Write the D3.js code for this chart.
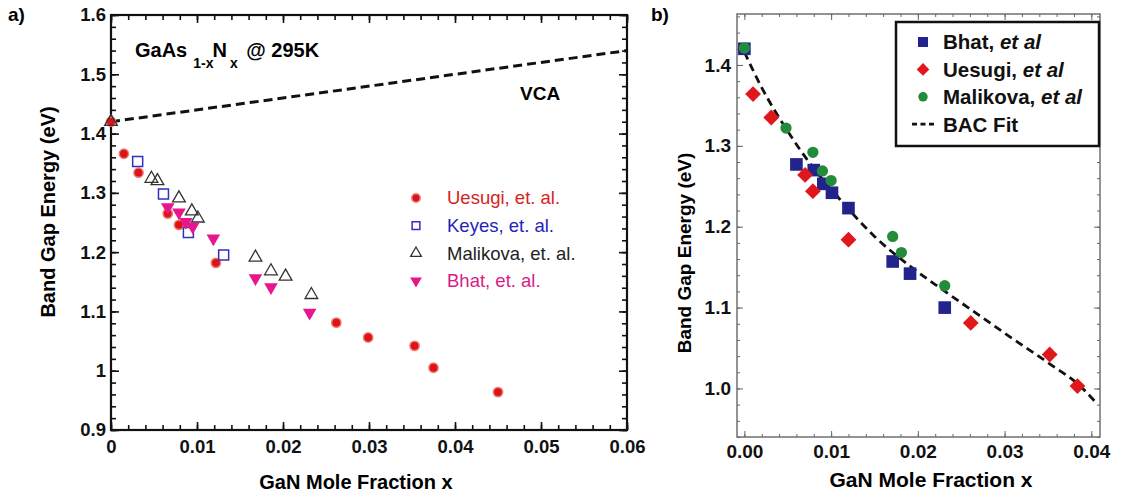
<!DOCTYPE html>
<meta charset="utf-8">
<title>GaAsN band gap</title>
<script src="https://d3js.org/d3.v7.min.js"></script>
<body style="margin:0; background:#fff;">
<div id="chart"></div>
</body>
<script>
// ---- panel a data ----
uesugiAx = [0, 0.0015, 0.0032, 0.0066, 0.0079, 0.0122, 0.0262, 0.0299, 0.0353, 0.0375, 0.0450]
uesugiAy = [1.42, 1.366, 1.334, 1.265, 1.246, 1.182, 1.081, 1.056, 1.042, 1.005, 0.964]
keyesAx = [0.0031, 0.0061, 0.0090, 0.0131]
keyesAy = [1.353, 1.298, 1.233, 1.195]
malikovaAx = [0, 0.0047, 0.0054, 0.0079, 0.0094, 0.0101, 0.0168, 0.0186, 0.0203, 0.0233]
malikovaAy = [1.42, 1.324, 1.320, 1.291, 1.269, 1.257, 1.191, 1.168, 1.159, 1.128]
bhatAx = [0.0066, 0.0079, 0.0087, 0.0095, 0.0119, 0.0168, 0.0186, 0.0231]
bhatAy = [1.276, 1.267, 1.251, 1.243, 1.223, 1.156, 1.141, 1.098]
vcaX = [0, 0.06]
vcaY = [1.42, 1.54]
aXTicks = [0, 0.01, 0.02, 0.03, 0.04, 0.05, 0.06]
aXLabels = ["0", "0.01", "0.02", "0.03", "0.04", "0.05", "0.06"]
aYTicks = [0.9, 1.0, 1.1, 1.2, 1.3, 1.4, 1.5, 1.6]
aYLabels = ["0.9", "1", "1.1", "1.2", "1.3", "1.4", "1.5", "1.6"]
aLegend = ["Uesugi, et. al.", "Keyes, et. al.", "Malikova, et. al.", "Bhat, et. al."]

// ---- panel b data ----
bhatBx = [0, 0.006, 0.008, 0.0091, 0.0101, 0.012, 0.0171, 0.0191, 0.0231]
bhatBy = [1.42, 1.277, 1.270, 1.253, 1.242, 1.223, 1.157, 1.142, 1.100]
uesugiBx = [0.001, 0.0031, 0.007, 0.0079, 0.012, 0.0261, 0.0352, 0.0384]
uesugiBy = [1.364, 1.335, 1.264, 1.244, 1.184, 1.081, 1.042, 1.003]
malikovaBx = [0, 0.0048, 0.0079, 0.009, 0.01, 0.0171, 0.0181, 0.0231]
malikovaBy = [1.421, 1.322, 1.292, 1.269, 1.257, 1.188, 1.168, 1.127]
fitX = [0, 0.002, 0.005, 0.008, 0.011, 0.015, 0.019, 0.023, 0.027, 0.031, 0.035, 0.039, 0.0405]
fitY = [1.416, 1.372, 1.318, 1.272, 1.234, 1.188, 1.152, 1.121, 1.091, 1.061, 1.032, 1.0, 0.983]
bXTicks = [0, 0.01, 0.02, 0.03, 0.04]
bYTicks = [1.0, 1.1, 1.2, 1.3, 1.4]
bLegend = ["Bhat, ", "Uesugi, ", "Malikova, ", "BAC Fit"]

const font = "Liberation Sans, Arial, sans-serif"
const zip = (xs, ys) => xs.map((v, i) => [v, ys[i]])

svg = d3.select("#chart").append("svg")
    .attr("width", 1132).attr("height", 497)
    .style("font-family", font)

// inward ticks on all four sides, labels on bottom and left
function frame(g, x, y, o) {
  const [xa, xb] = x.range(), [ya, yb] = y.range()
  const sides = [
    [d3.axisBottom(x), `translate(0,${ya})`, true, o.xt, o.xl, x.ticks(o.nx)],
    [d3.axisTop(x), `translate(0,${yb})`, false, o.xt, null, x.ticks(o.nx)],
    [d3.axisLeft(y), `translate(${xa},0)`, true, o.yt, o.yl, y.ticks(o.ny)],
    [d3.axisRight(y), `translate(${xb},0)`, false, o.yt, null, y.ticks(o.ny)]
  ]
  const vertical = [false, false, true, true]
  sides.forEach(([ax, tr, lab, ticks, labels, minor], k) => {
    g.append("g").attr("transform", tr)
      .call(ax.tickValues(minor).tickSize(-o.minor).tickFormat(""))
      .call(s => s.select(".domain").remove())
      .selectAll("line").attr("stroke", o.color).attr("stroke-width", o.tickW)
    const a = g.append("g").attr("transform", tr)
      .call(ax.tickValues(ticks).tickSize(-o.major)
        .tickPadding(vertical[k] ? o.padY : o.padX)
        .tickFormat(lab ? (d, i) => labels[i] : ""))
      .call(s => s.select(".domain").remove())
    a.selectAll("line").attr("stroke", o.color).attr("stroke-width", o.tickW)
    a.selectAll("text").attr("font-size", o.fs).attr("font-weight", "bold")
      .attr("font-family", font).attr("fill", "#111")
  })
  g.append("rect")
    .attr("x", xa).attr("y", yb).attr("width", xb - xa).attr("height", ya - yb)
    .attr("fill", "none").attr("stroke", o.color).attr("stroke-width", o.frameW)
}

// ================= panel a =================
xa = d3.scaleLinear().domain([0, 0.06]).range([111, 627])
ya = d3.scaleLinear().domain([0.9, 1.6]).range([430, 15])
ga = svg.append("g")

frame(ga, xa, ya, {xt: aXTicks, xl: aXLabels, yt: aYTicks, yl: aYLabels, nx: 30, ny: 35,
  major: 8, minor: 5, padX: 10, padY: 5, fs: 18.5, color: "#111", tickW: 1.6, frameW: 2.2})

lineA = d3.line().x(d => xa(d[0])).y(d => ya(d[1]))
ga.append("path").datum(zip(vcaX, vcaY))
    .attr("d", lineA).attr("fill", "none").attr("stroke", "#111")
    .attr("stroke-width", 3).attr("stroke-dasharray", "9,5")

symA = [
  {pts: zip(uesugiAx, uesugiAy), type: d3.symbolCircle, size: 68, fill: "#dd1414", stroke: "#f07a7a", sw: 1.5, rot: 0},
  {pts: zip(keyesAx, keyesAy), type: d3.symbolSquare, size: 100, fill: "none", stroke: "#3030c0", sw: 1.5, rot: 0},
  {pts: zip(malikovaAx, malikovaAy), type: d3.symbolTriangle, size: 70, fill: "none", stroke: "#333", sw: 1.3, rot: 0},
  {pts: zip(bhatAx, bhatAy), type: d3.symbolTriangle, size: 80, fill: "#e8168c", stroke: "none", sw: 0, rot: 180}
]
symA.forEach(s => {
  ga.append("g").selectAll("path").data(s.pts).join("path")
    .attr("transform", d => `translate(${xa(d[0])},${ya(d[1])}) rotate(${s.rot})`)
    .attr("d", d3.symbol(s.type, s.size))
    .attr("fill", s.fill).attr("stroke", s.stroke).attr("stroke-width", s.sw)
})

legendColorsA = ["#d42424", "#2424b8", "#222", "#d81c88"]
legA = ga.append("g").selectAll("g").data(aLegend).join("g")
    .attr("transform", (d, i) => `translate(416,${198 + i * 27.6})`)
legA.append("path")
    .attr("transform", (d, i) => `rotate(${symA[i].rot})`)
    .attr("d", (d, i) => d3.symbol(symA[i].type, [55, 60, 50, 60][i])())
    .attr("fill", (d, i) => symA[i].fill).attr("stroke", (d, i) => symA[i].stroke)
    .attr("stroke-width", (d, i) => symA[i].sw)
legA.append("text").attr("x", 31).attr("dy", "0.35em")
    .attr("font-size", 18.5).attr("fill", (d, i) => legendColorsA[i]).text(d => d)

ga.append("text").attr("x", 135).attr("y", 57).attr("font-size", 20).attr("font-weight", "bold")
    .call(t => {
      t.append("tspan").text("GaAs")
      t.append("tspan").attr("font-size", 14).attr("dx", 6).attr("dy", 11).text("1-x")
      t.append("tspan").attr("dx", -1).attr("dy", -11).text("N")
      t.append("tspan").attr("font-size", 14).attr("dx", 3).attr("dy", 11).text("x")
      t.append("tspan").attr("dx", 3).attr("dy", -11).text(" @ 295K")
    })
ga.append("text").attr("x", 520).attr("y", 100).attr("font-size", 19)
    .attr("font-weight", "bold").text("VCA")
ga.append("text").attr("x", 8).attr("y", 21).attr("font-size", 19)
    .attr("font-weight", "bold").text("a)")
ga.append("text").attr("transform", "translate(55,212) rotate(-90)")
    .attr("text-anchor", "middle").attr("font-size", 20).attr("font-weight", "bold")
    .text("Band Gap Energy (eV)")
ga.append("text").attr("x", 356).attr("y", 489)
    .attr("text-anchor", "middle").attr("font-size", 20).attr("font-weight", "bold")
    .text("GaN Mole Fraction x")

// ================= panel b =================
xb = d3.scaleLinear().domain([-0.00085, 0.041]).range([737, 1100])
yb = d3.scaleLinear().domain([0.94, 1.463]).range([437, 14])
gb = svg.append("g")

frame(gb, xb, yb, {xt: bXTicks, xl: bXTicks.map(d => d.toFixed(2)),
  yt: bYTicks, yl: bYTicks.map(d => d.toFixed(1)), nx: 21, ny: 26,
  major: 6, minor: 3, padX: 8, padY: 6, fs: 19, color: "#666", tickW: 1, frameW: 1.4})

lineB = d3.line().curve(d3.curveMonotoneX).x(d => xb(d[0])).y(d => yb(d[1]))
gb.append("path").datum(zip(fitX, fitY))
    .attr("d", lineB).attr("fill", "none").attr("stroke", "#111")
    .attr("stroke-width", 2.8).attr("stroke-dasharray", "8,5")

symB = [
  {pts: zip(bhatBx, bhatBy), type: d3.symbolSquare, size: 160, fill: "#23238c", rot: 0},
  {pts: zip(uesugiBx, uesugiBy), type: d3.symbolSquare, size: 125, fill: "#e0181c", rot: 45},
  {pts: zip(malikovaBx, malikovaBy), type: d3.symbolCircle, size: 100, fill: "#238c3a", rot: 0}
]
symB.forEach(s => {
  gb.append("g").selectAll("path").data(s.pts).join("path")
    .attr("transform", d => `translate(${xb(d[0])},${yb(d[1])}) rotate(${s.rot})`)
    .attr("d", d3.symbol(s.type, s.size)).attr("fill", s.fill)
})

gb.append("rect").attr("x", 896).attr("y", 22).attr("width", 203).attr("height", 124)
    .attr("fill", "#fff").attr("stroke", "#111").attr("stroke-width", 2.5)
legB = gb.append("g").selectAll("g").data(bLegend).join("g")
    .attr("transform", (d, i) => `translate(923,${42 + i * 27.4})`)
legB.filter((d, i) => i < 3).append("path")
    .attr("transform", (d, i) => `rotate(${symB[i].rot})`)
    .attr("d", (d, i) => d3.symbol(symB[i].type, [100, 80, 70][i])())
    .attr("fill", (d, i) => symB[i].fill)
legB.filter((d, i) => i === 3).append("line")
    .attr("x1", -11).attr("x2", 13).attr("stroke", "#111")
    .attr("stroke-width", 2.8).attr("stroke-dasharray", "5,3.5")
legB.append("text").attr("x", 20).attr("dy", "0.36em")
    .attr("font-size", 20.5).attr("font-weight", "bold").attr("fill", "#111")
    .call(t => t.append("tspan").text(d => d))
    .call(t => t.filter((d, i) => i < 3).append("tspan").attr("font-style", "italic").text("et al"))

gb.append("text").attr("x", 651).attr("y", 21).attr("font-size", 19)
    .attr("font-weight", "bold").text("b)")
gb.append("text").attr("transform", "translate(691,253) rotate(-90)")
    .attr("text-anchor", "middle").attr("font-size", 19).attr("font-weight", "bold")
    .text("Band Gap Energy (eV)")
gb.append("text").attr("x", 931).attr("y", 487)
    .attr("text-anchor", "middle").attr("font-size", 21).attr("font-weight", "bold")
    .text("GaN Mole Fraction x")
</script>
